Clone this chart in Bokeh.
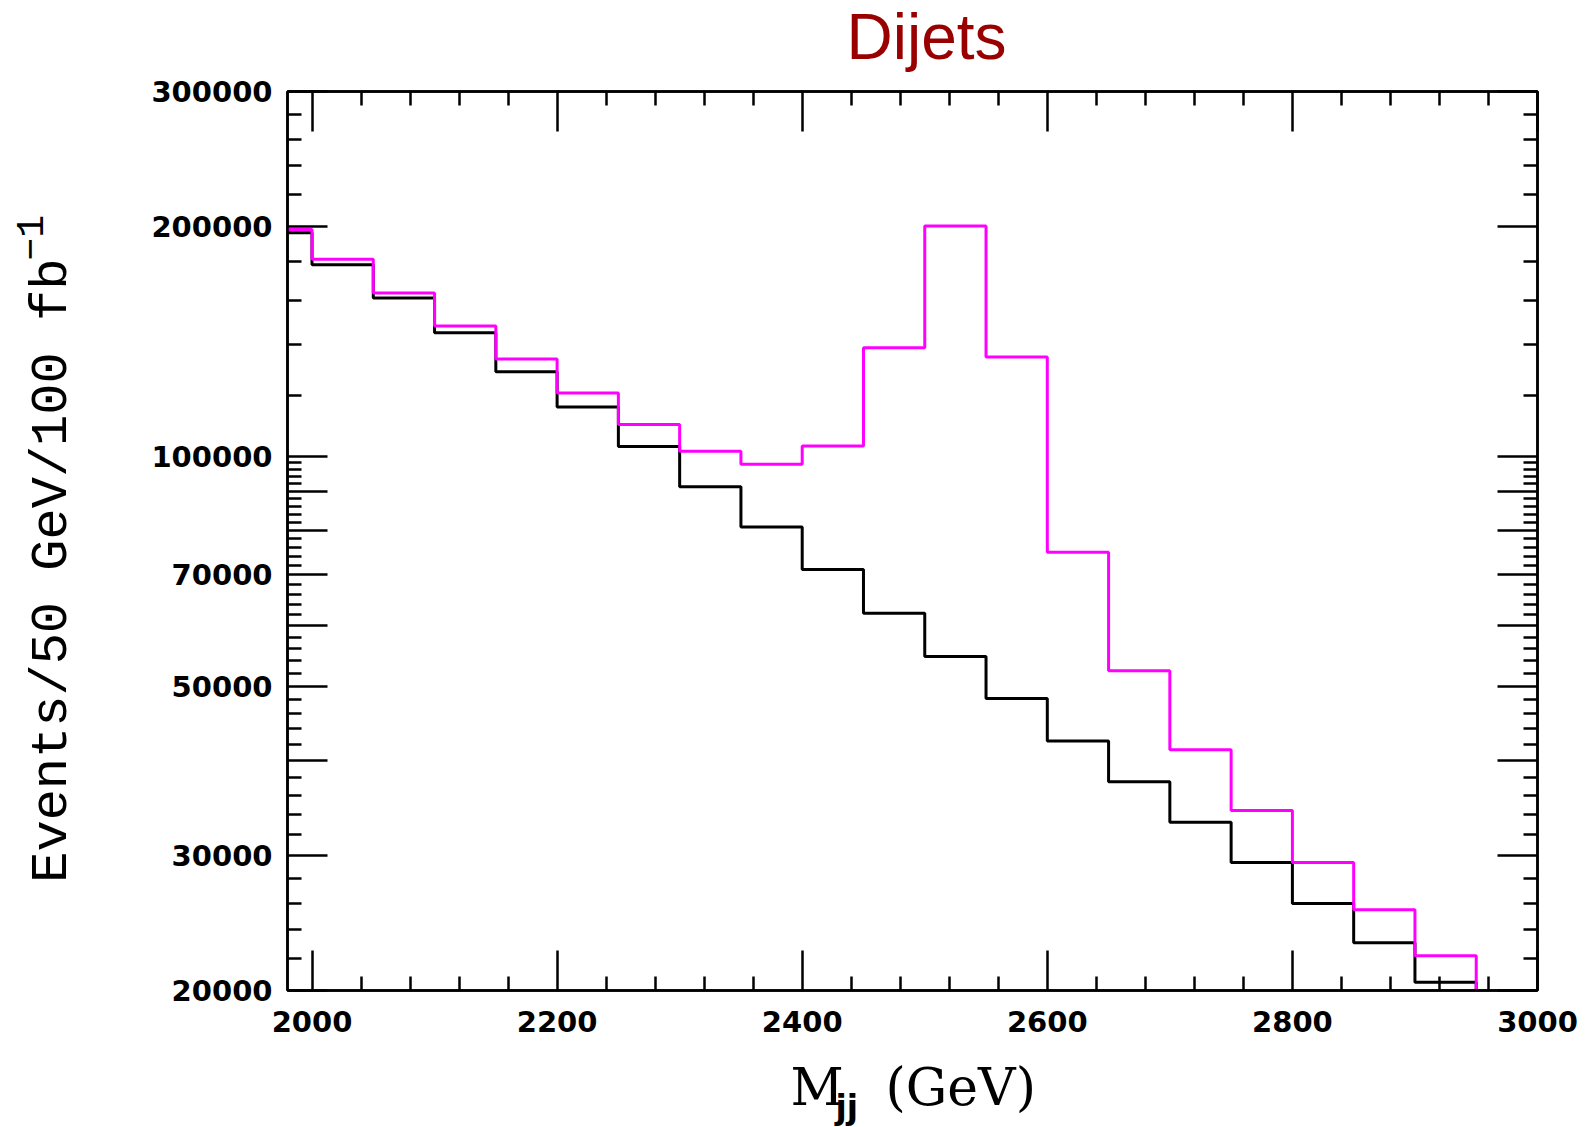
import numpy as np
from bokeh.plotting import figure
from bokeh.layouts import column, row
from bokeh.models import Range1d, FixedTicker, LinearAxis, LogAxis
from bokeh.core.properties import value
from bokeh.embed import file_html
from bokeh.resources import INLINE

# ---- data ----
bin_edges = [1950, 2000, 2050, 2100, 2150, 2200, 2250, 2300, 2350, 2400, 2450,
             2500, 2550, 2600, 2650, 2700, 2750, 2800, 2850, 2900, 2950]
background = [196000, 178000, 161000, 145000, 129000, 116000, 103000, 91200,
              80800, 71100, 62300, 54700, 48200, 42400, 37500, 33200, 29400,
              26000, 23100, 20500]
signal_plus_bg = [198000, 181000, 163500, 148000, 134000, 121000, 110000,
                  101500, 97600, 103100, 138600, 200000, 134800, 74900, 52400,
                  41300, 34400, 29400, 25500, 22200]

x_major_ticks = [2000, 2200, 2400, 2600, 2800, 3000]
x_minor_ticks = [v for v in range(2040, 3000, 40) if v not in x_major_ticks]
y_major_ticks = [20000, 30000, 40000, 50000, 60000, 70000, 80000, 90000,
                 100000, 200000, 300000]
y_tick_labels = {20000: "20000", 30000: "30000", 50000: "50000",
                 70000: "70000", 100000: "100000", 200000: "200000",
                 300000: "300000"}
y_minor_ticks = ([v for v in range(22000, 100000, 2000) if v % 10000 != 0] +
                 [v for v in range(120000, 300000, 20000) if v != 200000])

title_text = "Dijets"
y_label_text = "Events/50 GeV/100 fb"
y_label_sup = "\u22121"
x_label_main = "M"
x_label_sub = "jj"
x_label_unit = "(GeV)"

X_MIN, X_MAX = 1980, 3000
Y_MIN, Y_MAX = 20000, 300000

PAGE_W, PAGE_H = 1589, 1127
TOP_H = 73          # title strip
LEFT_W = 100        # y-label strip
BOTTOM_H = 86       # x-label strip
MID_H = PAGE_H - TOP_H - BOTTOM_H


def text_panel(w, h):
    f = figure(width=w, height=h, output_backend="svg", toolbar_location=None,
               x_range=Range1d(0, w), y_range=Range1d(0, h),
               x_axis_location=None, y_axis_location=None, min_border=0,
               title=None)
    f.xgrid.visible = False
    f.ygrid.visible = False
    f.outline_line_color = None
    f.background_fill_color = "white"
    f.border_fill_color = "white"
    return f


# ---- main plot ----
p = figure(width=PAGE_W - LEFT_W, height=MID_H, output_backend="svg",
           toolbar_location=None, y_axis_type="log",
           x_range=Range1d(X_MIN, X_MAX), y_range=Range1d(Y_MIN, Y_MAX),
           x_axis_location=None, y_axis_location=None, title=None,
           min_border_left=187, min_border_right=52,
           min_border_top=91 - TOP_H, min_border_bottom=51)
p.xgrid.visible = False
p.ygrid.visible = False
p.outline_line_color = "black"
p.outline_line_width = 2.5
p.background_fill_color = "white"
p.border_fill_color = "white"


def style_axis(ax, show_labels):
    ax.axis_line_width = 2.5
    ax.axis_line_color = "black"
    ax.major_tick_in = 40
    ax.major_tick_out = 0
    ax.minor_tick_in = 14
    ax.minor_tick_out = 0
    ax.major_tick_line_width = 2.5
    ax.minor_tick_line_width = 2.5
    ax.major_tick_line_color = "black"
    ax.minor_tick_line_color = "black"
    if show_labels:
        ax.major_label_text_font = "DejaVu Sans"
        ax.major_label_text_font_style = "bold"
        ax.major_label_text_font_size = "29px"
        ax.major_label_text_color = "black"
    else:
        ax.major_label_text_font_size = "0px"
        ax.major_label_standoff = 0


xticker = FixedTicker(ticks=x_major_ticks, minor_ticks=x_minor_ticks)
yticker = FixedTicker(ticks=y_major_ticks, minor_ticks=y_minor_ticks)

xb = LinearAxis(ticker=xticker)
style_axis(xb, True)
xb.major_label_standoff = 20
xb.major_label_overrides = {float(t): str(t) for t in x_major_ticks}
p.add_layout(xb, "below")

xt = LinearAxis(ticker=xticker)
style_axis(xt, False)
xt.major_label_overrides = {float(t): "" for t in x_major_ticks}
p.add_layout(xt, "above")

yl = LogAxis(ticker=yticker)
style_axis(yl, True)
yl.major_label_standoff = 15
yl.major_label_overrides = {float(t): y_tick_labels.get(t, "") for t in y_major_ticks}
p.add_layout(yl, "left")

yr = LogAxis(ticker=yticker)
style_axis(yr, False)
yr.major_label_overrides = {float(t): "" for t in y_major_ticks}
p.add_layout(yr, "right")


def step_path(edges, values):
    xs = list(np.repeat(edges, 2)[1:-1]) + [edges[-1]]
    ys = list(np.repeat(values, 2)) + [Y_MIN]
    return xs, ys


bx, by = step_path(bin_edges, background)
sx, sy = step_path(bin_edges, signal_plus_bg)
p.line(bx, by, line_color="black", line_width=3)
p.line(sx, sy, line_color="#ff00ff", line_width=3)

# ---- title strip ----
top = text_panel(PAGE_W, TOP_H)
top.text(x=[846], y=[37], text=[title_text],
         text_font=value("Liberation Sans"), text_font_size="64px",
         text_color="#990000", text_align="left", text_baseline="alphabetic")

# ---- y-label strip ----
left = text_panel(LEFT_W, MID_H)
left.text(x=[52], y=[116], text=[y_label_text], angle=np.pi / 2,
          text_font=value("Liberation Mono"), text_font_size="52px",
          text_color="black", text_align="left", text_baseline="alphabetic")
left.text(x=[29], y=[786], text=[y_label_sup], angle=np.pi / 2,
          text_font=value("Liberation Mono"), text_font_size="38px",
          text_color="black", text_align="left", text_baseline="alphabetic")

# ---- x-label strip ----
bottom = text_panel(PAGE_W, BOTTOM_H)
bottom.text(x=[790], y=[41], text=[x_label_main],
            text_font=value("DejaVu Serif"), text_font_size="52px",
            text_color="black", text_align="left", text_baseline="alphabetic")
bottom.text(x=[835], y=[20], text=[x_label_sub],
            text_font=value("DejaVu Sans"), text_font_style="bold",
            text_font_size="33px", text_color="black", text_align="left",
            text_baseline="alphabetic")
bottom.text(x=[885], y=[41], text=[x_label_unit],
            text_font=value("DejaVu Serif"), text_font_size="52px",
            text_color="black", text_align="left", text_baseline="alphabetic")

layout = column(top, row(left, p, spacing=0), bottom, spacing=0)

open("out.html", "w").write(file_html(layout, INLINE))
